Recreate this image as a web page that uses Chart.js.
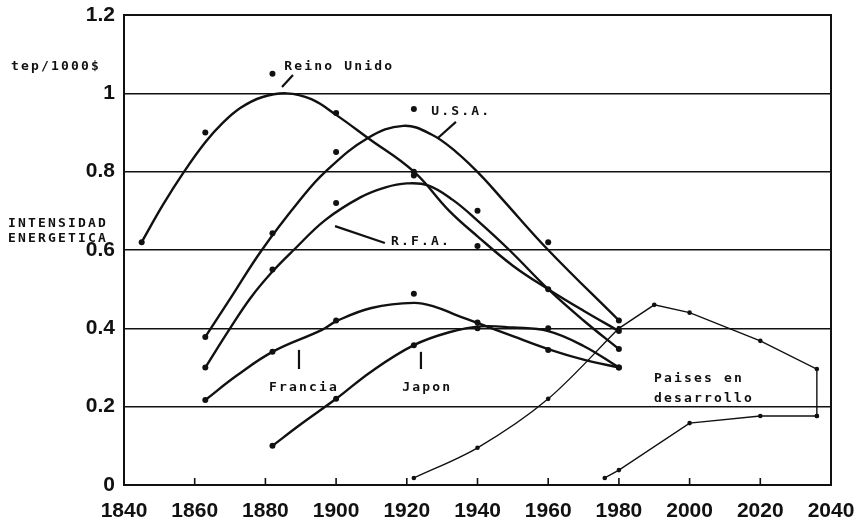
<!DOCTYPE html>
<html>
<head>
<meta charset="utf-8">
<title>Intensidad energetica</title>
<script src="https://cdn.jsdelivr.net/npm/chart.js@4.4.1/dist/chart.umd.min.js"></script>
<style>
  html, body { margin: 0; padding: 0; background: #fff; }
  canvas { display: block; }
</style>
</head>
<body>
<canvas id="chart" width="860" height="526"></canvas>
<script>
// tick labels
const xTickLabels = ['1840', '1860', '1880', '1900', '1920', '1940', '1960', '1980', '2000', '2020', '2040'];
const yTickLabels = ['0', '0.2', '0.4', '0.6', '0.8', '1', '1.2'];

// hand drawn curves
const ukYears = [1845, 1851, 1857, 1863, 1868, 1873, 1879, 1886, 1893, 1900, 1909, 1922, 1932, 1940, 1950, 1960, 1970, 1980];
const ukCurve = [0.62, 0.715, 0.80, 0.875, 0.925, 0.963, 0.99, 1.0, 0.985, 0.945, 0.886, 0.80, 0.70, 0.635, 0.56, 0.50, 0.445, 0.393];

const usaYears = [1863, 1870, 1879, 1890, 1897, 1909, 1919, 1927, 1934, 1941, 1947, 1960, 1980];
const usaCurve = [0.378, 0.475, 0.60, 0.73, 0.80, 0.886, 0.917, 0.895, 0.85, 0.79, 0.73, 0.60, 0.42];

const rfaYears = [1863, 1870, 1876, 1882, 1888, 1897, 1907, 1914, 1920, 1926, 1933, 1940, 1949, 1960, 1970, 1980];
const rfaCurve = [0.30, 0.40, 0.48, 0.545, 0.60, 0.677, 0.735, 0.76, 0.77, 0.765, 0.728, 0.675, 0.60, 0.50, 0.42, 0.347];

const franceYears = [1863, 1872, 1882, 1896, 1900, 1910, 1922, 1928, 1934, 1940, 1950, 1960, 1970, 1980];
const franceCurve = [0.217, 0.28, 0.34, 0.396, 0.418, 0.452, 0.465, 0.455, 0.434, 0.414, 0.38, 0.347, 0.32, 0.30];

const japanYears = [1882, 1890, 1900, 1910, 1922, 1932, 1941, 1950, 1960, 1970, 1980];
const japanCurve = [0.10, 0.155, 0.22, 0.29, 0.357, 0.39, 0.405, 0.402, 0.393, 0.355, 0.30];

// developing countries: history, projection, lower projection
const paisesYears = [1922, 1940, 1960, 1980];
const paisesValues = [0.018, 0.095, 0.22, 0.40];
const paisesHighYears = [1980, 1990, 2000, 2020, 2036, 2036];
const paisesHighValues = [0.40, 0.46, 0.44, 0.368, 0.296, 0.176];
const paisesLowYears = [2036, 2020, 2000, 1980, 1976];
const paisesLowValues = [0.176, 0.176, 0.158, 0.038, 0.018];

// measured points
const dotYears = [1845, 1863, 1882, 1900, 1922, 1940, 1960, 1980];
const ukDots = [0.62, 0.90, 1.05, 0.95, 0.79, 0.61, 0.50, 0.393];
const usaDots = [null, 0.378, 0.643, 0.85, 0.96, 0.70, 0.62, 0.42];
const rfaDots = [null, 0.30, 0.55, 0.72, 0.80, null, null, 0.347];
const franceDots = [null, 0.217, 0.34, 0.42, 0.488, 0.415, 0.345, 0.30];
const japanDots = [null, null, 0.10, 0.22, 0.357, 0.40, 0.40, 0.30];

const ink = '#111';

function pts(xs, ys) {
    return xs.map((x, i) => ({ x: x, y: ys[i] })).filter(p => p.y !== null);
}

function curve(xs, ys) {
    return {
        type: 'line',
        data: pts(xs, ys),
        borderColor: ink,
        borderWidth: 2.4,
        pointRadius: 0,
        tension: 0.4,
        fill: false
    };
}

function thin(xs, ys, smooth) {
    return {
        type: 'line',
        data: pts(xs, ys),
        borderColor: ink,
        borderWidth: 1.4,
        pointRadius: 2.3,
        pointBackgroundColor: ink,
        pointBorderWidth: 0,
        cubicInterpolationMode: smooth ? 'monotone' : 'default',
        tension: 0,
        fill: false
    };
}

function dots(ys) {
    return {
        type: 'scatter',
        data: pts(dotYears, ys),
        showLine: false,
        pointRadius: 3,
        pointBackgroundColor: ink,
        pointBorderWidth: 0
    };
}

// labels written on the figure (data coordinates)
const notes = [
    { text: 'Reino Unido', x: 1885, y: 1.06 },
    { text: 'U.S.A.', x: 1926.6, y: 0.945 },
    { text: 'R.F.A.', x: 1915.2, y: 0.613 },
    { text: 'Francia', x: 1880.7, y: 0.24 },
    { text: 'Japon', x: 1918.4, y: 0.24 },
    { text: 'Paises en', x: 1989.6, y: 0.263 },
    { text: 'desarrollo', x: 1989.6, y: 0.212 }
];
const pointers = [
    [1884.7, 1.016, 1887.8, 1.047],
    [1928.8, 0.886, 1933.9, 0.927],
    [1899.7, 0.661, 1913.8, 0.618],
    [1889.5, 0.345, 1889.5, 0.296],
    [1924.0, 0.340, 1924.0, 0.296]
];
// labels beside the axis (pixels)
const sideNotes = [
    { text: 'tep/1000$', px: 10, py: 70 },
    { text: 'INTENSIDAD', px: 7, py: 227 },
    { text: 'ENERGETICA', px: 7, py: 242 }
];

function typewriter(ctx, text, x, y) {
    for (let i = 0; i < text.length; i++) {
        ctx.fillText(text[i], x + i * 10 + 5, y);
    }
}

const figurePlugin = {
    id: 'figure',
    beforeDraw(chart) {
        const ctx = chart.ctx;
        ctx.save();
        ctx.fillStyle = '#fff';
        ctx.fillRect(0, 0, chart.width, chart.height);
        ctx.restore();
    },
    afterDraw(chart) {
        const ctx = chart.ctx;
        const area = chart.chartArea;
        const xs = chart.scales.x;
        const ys = chart.scales.y;
        ctx.save();
        ctx.strokeStyle = ink;
        ctx.lineWidth = 2;
        ctx.strokeRect(area.left, area.top, area.right - area.left, area.bottom - area.top);

        // tick marks inside the frame
        ctx.lineWidth = 1.6;
        xs.ticks.forEach(t => {
            const px = xs.getPixelForValue(t.value);
            ctx.beginPath();
            ctx.moveTo(px, area.bottom);
            ctx.lineTo(px, area.bottom - 7);
            ctx.stroke();
        });

        // pointer strokes
        ctx.lineWidth = 2.2;
        pointers.forEach(p => {
            ctx.beginPath();
            ctx.moveTo(xs.getPixelForValue(p[0]), ys.getPixelForValue(p[1]));
            ctx.lineTo(xs.getPixelForValue(p[2]), ys.getPixelForValue(p[3]));
            ctx.stroke();
        });

        ctx.fillStyle = ink;
        ctx.font = 'bold 13px "DejaVu Sans Mono", "Liberation Mono", monospace';
        ctx.textAlign = 'center';
        ctx.textBaseline = 'alphabetic';
        notes.forEach(n => {
            typewriter(ctx, n.text, xs.getPixelForValue(n.x), ys.getPixelForValue(n.y));
        });
        sideNotes.forEach(n => typewriter(ctx, n.text, n.px, n.py));
        ctx.restore();
    }
};

new Chart(document.getElementById('chart'), {
    data: {
        datasets: [
            curve(ukYears, ukCurve),
            curve(usaYears, usaCurve),
            curve(rfaYears, rfaCurve),
            curve(franceYears, franceCurve),
            curve(japanYears, japanCurve),
            thin(paisesYears, paisesValues, true),
            thin(paisesHighYears, paisesHighValues, false),
            thin(paisesLowYears, paisesLowValues, false),
            dots(ukDots),
            dots(usaDots),
            dots(rfaDots),
            dots(franceDots),
            dots(japanDots)
        ]
    },
    options: {
        responsive: false,
        animation: false,
        devicePixelRatio: 1,
        layout: { padding: { top: 15, right: 29, left: 0, bottom: 0 } },
        plugins: {
            legend: { display: false },
            tooltip: { enabled: false }
        },
        scales: {
            x: {
                type: 'linear',
                min: 1840,
                max: 2040,
                ticks: {
                    stepSize: 20,
                    padding: 6,
                    color: ink,
                    maxRotation: 0,
                    font: { family: '"Liberation Sans", Arial, sans-serif', size: 21, weight: 'bold' },
                    callback: (v, i) => xTickLabels[i]
                },
                grid: { display: false },
                border: { display: false },
                afterFit: s => { s.height = 41; s.paddingLeft = 0; s.paddingRight = 0; }
            },
            y: {
                type: 'linear',
                min: 0,
                max: 1.2,
                ticks: {
                    stepSize: 0.2,
                    padding: 9,
                    color: ink,
                    font: { family: '"Liberation Sans", Arial, sans-serif', size: 21, weight: 'bold' },
                    callback: (v, i) => yTickLabels[i]
                },
                grid: { color: ink, lineWidth: 1.6, drawTicks: false },
                border: { display: false },
                afterFit: s => { s.width = 124; s.paddingTop = 0; s.paddingBottom = 0; }
            }
        }
    },
    plugins: [figurePlugin]
});
</script>
</body>
</html>
